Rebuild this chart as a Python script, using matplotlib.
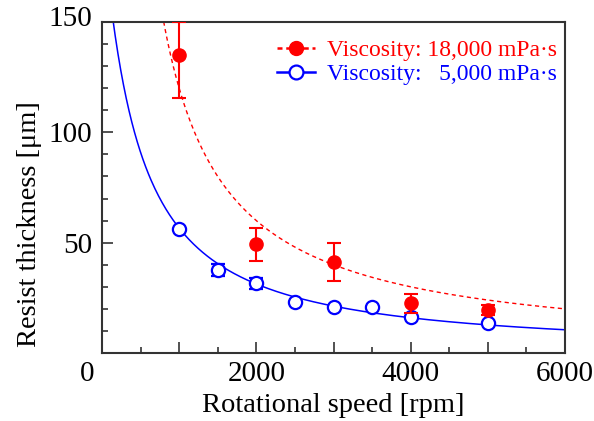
import numpy as np
import matplotlib
matplotlib.use("Agg")
import matplotlib.pyplot as plt
from matplotlib.ticker import MultipleLocator, FuncFormatter
from matplotlib.transforms import ScaledTranslation

plt.rcParams['font.family'] = ['Liberation Serif', 'DejaVu Serif']

# measured points, 18,000 mPa s
speed_hi = [1000, 2000, 3000, 4000, 5000]
thick_hi = [135, 49.2, 41.3, 22.5, 19.5]
err_hi_lo = [19.5, 7.6, 8.6, 4.4, 2.3]
err_hi_up = [15, 7.6, 8.6, 4.4, 2.3]

# measured points, 5,000 mPa s
speed_lo = [1000, 1500, 2000, 2500, 3000, 3500, 4000, 5000]
thick_lo = [56.3, 37.6, 31.6, 23.0, 21.0, 21.0, 16.4, 13.7]
err_lo = [0, 2.6, 2.6, 0, 0, 0, 0, 0]

# fitted curves  h = a / (w**n + c)
fit_hi = (120000, 1.0, 0.0)
fit_lo = (159530, 1.1, 823.6)

red = '#ff0000'
blue = '#0000ff'

fig, ax = plt.subplots(figsize=(5.94, 4.21), dpi=100)
fig.subplots_adjust(left=0.1717, right=0.9512, top=0.9477, bottom=0.1615)

w = np.linspace(40, 6000, 500)
a, n, c = fit_hi
ax.plot(w, a / (w**n + c), color=red, lw=1.0, ls=(0, (3, 2.5)))
a, n, c = fit_lo
ax.plot(w, a / (w**n + c), color=blue, lw=1.1)

ax.errorbar(speed_hi, thick_hi, yerr=[err_hi_lo, err_hi_up], fmt='o', color=red,
            ms=9.5, capsize=5, elinewidth=1.5, capthick=1.5, zorder=4)
ax.errorbar(speed_lo, thick_lo, yerr=err_lo, fmt='o', color=blue, mfc='white',
            mec=blue, mew=1.6, ms=9.5, capsize=5, elinewidth=1.5, capthick=1.5, zorder=3)

# legend handles
h1, = ax.plot([], [], color=red, ls=(0, (2, 1.5)), lw=1.8, marker='o', ms=10)
h2, = ax.plot([], [], color=blue, lw=1.8, marker='o', ms=10, mfc='white', mew=1.6)
leg = ax.legend([h1, h2], ['Viscosity: 18,000 mPa\u00b7s', 'Viscosity:   5,000 mPa\u00b7s'],
                loc='upper right', frameon=False, fontsize=17, handlelength=1.6,
                handletextpad=0.5, borderaxespad=0.35, labelspacing=0.1,
                bbox_to_anchor=(1.02, 1.0))
leg.get_texts()[0].set_color(red)
leg.get_texts()[1].set_color(blue)

ax.set_xlim(0, 6000)
ax.set_ylim(0, 150)
ax.xaxis.set_major_locator(MultipleLocator(1000))
ax.xaxis.set_minor_locator(MultipleLocator(500))
ax.xaxis.set_major_formatter(FuncFormatter(lambda v, p: '%d' % v if v > 0 and v % 2000 == 0 else ''))
ax.yaxis.set_major_locator(MultipleLocator(50))
ax.yaxis.set_minor_locator(MultipleLocator(10))
ax.yaxis.set_major_formatter(FuncFormatter(lambda v, p: '%d' % v if v > 0 else ''))

ax.tick_params(which='both', direction='in', top=False, right=False, labelsize=21, color='#333333')
ax.tick_params(which='major', length=8, width=1.2)
ax.tick_params(which='minor', length=4, width=1.2)
ax.tick_params(axis='y', pad=7)
ax.tick_params(axis='x', pad=6)
for s in ax.spines.values():
    s.set_color('#333333')
    s.set_linewidth(1.5)

fig.canvas.draw()
for t in ax.yaxis.get_major_ticks():
    if t.label1.get_text() == '150':
        t.label1.set_transform(t.label1.get_transform() + ScaledTranslation(0, 6 / 100, fig.dpi_scale_trans))

ax.annotate('0', xy=(0, 0), xytext=(-15, -21), textcoords='offset pixels',
            ha='center', va='center', fontsize=21)

ax.set_xlabel('Rotational speed [rpm]', fontsize=20.5, labelpad=4)
ax.set_ylabel('Resist thickness [\u03bcm]', fontsize=20.5)
ax.yaxis.set_label_coords(-0.13, 0.39)

fig.savefig('out.png', dpi=100)
